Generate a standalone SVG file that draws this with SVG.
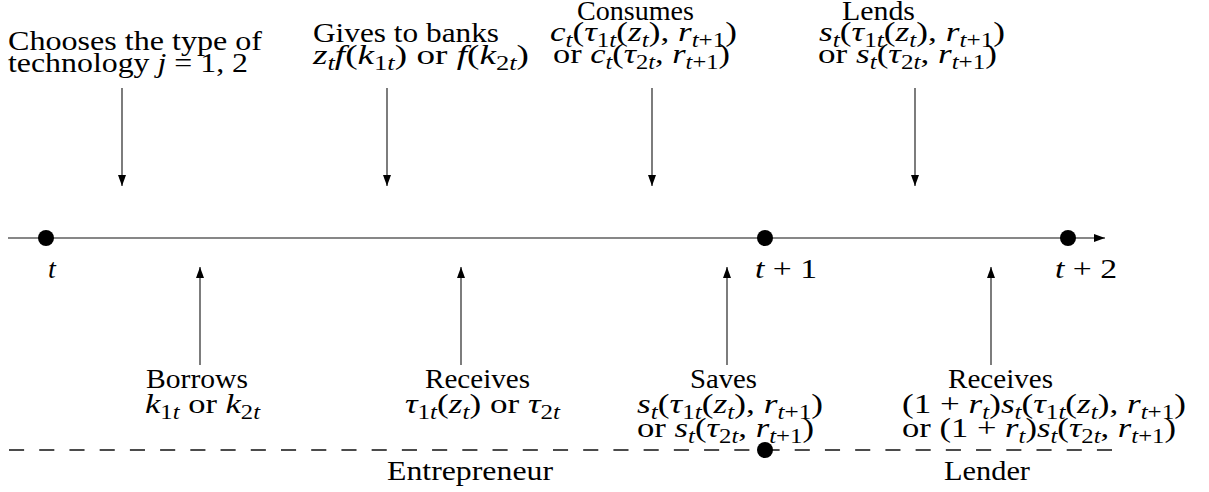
<svg xmlns="http://www.w3.org/2000/svg" width="1209" height="492" viewBox="0 0 1209 492">
<style>
text { font-family: "Liberation Serif", "DejaVu Serif", serif; font-size: 28px; fill: #000; }
.i { font-style: italic; }
.sb { font-size: 20px; }
.ln { stroke: #111; stroke-width: 1.1; fill: none; }
.dash { stroke: #111; stroke-width: 1.3; stroke-dasharray: 15.11 15.11; fill: none; }
.dot { fill: #000; }
</style>
<defs>
<marker id="ah" markerUnits="userSpaceOnUse" markerWidth="11" markerHeight="8" refX="11" refY="4" orient="auto">
<path d="M0,0 L11,4 L0,8 z" fill="#000"/>
</marker>
</defs>
<rect width="1209" height="492" fill="#fff"/>

<g id="connectors">
<line class="ln" x1="8" y1="238" x2="1105" y2="238" marker-end="url(#ah)"/>
<line class="ln" x1="122" y1="88" x2="122" y2="186" marker-end="url(#ah)"/>
<line class="ln" x1="387" y1="88" x2="387" y2="186" marker-end="url(#ah)"/>
<line class="ln" x1="652" y1="88" x2="652" y2="186" marker-end="url(#ah)"/>
<line class="ln" x1="915" y1="88" x2="915" y2="186" marker-end="url(#ah)"/>
<line class="ln" x1="200" y1="365" x2="200" y2="267" marker-end="url(#ah)"/>
<line class="ln" x1="461" y1="365" x2="461" y2="267" marker-end="url(#ah)"/>
<line class="ln" x1="727" y1="365" x2="727" y2="267" marker-end="url(#ah)"/>
<line class="ln" x1="991" y1="365" x2="991" y2="267" marker-end="url(#ah)"/>
<line class="dash" x1="9" y1="450" x2="1112" y2="450"/>
</g>

<g id="time-t">
<circle class="dot" cx="46" cy="238" r="8"/>
<text x="52" y="278" text-anchor="middle" class="i">t</text>
</g>
<g id="time-t1">
<circle class="dot" cx="765" cy="238" r="8"/>
<text x="755" y="278" textLength="62" lengthAdjust="spacingAndGlyphs"><tspan class="i">t</tspan> + 1</text>
</g>
<g id="time-t2">
<circle class="dot" cx="1068" cy="238" r="8"/>
<text x="1055" y="278" textLength="62" lengthAdjust="spacingAndGlyphs"><tspan class="i">t</tspan> + 2</text>
</g>

<g id="chooses">
<text x="8" y="50" textLength="254" lengthAdjust="spacingAndGlyphs">Chooses the type of</text>
<text x="8" y="72" textLength="240" lengthAdjust="spacingAndGlyphs">technology <tspan class="i">j</tspan> = 1, 2</text>
</g>

<g id="gives">
<text x="313" y="42" textLength="186" lengthAdjust="spacingAndGlyphs">Gives to banks</text>
<text x="313" y="64" textLength="216" lengthAdjust="spacingAndGlyphs"><tspan class="i">z</tspan><tspan class="sb i" dy="6">t</tspan><tspan class="i" dy="-6">f</tspan>(<tspan class="i">k</tspan><tspan class="sb" dy="6">1<tspan class="i">t</tspan></tspan><tspan dy="-6">) or </tspan><tspan class="i">f</tspan>(<tspan class="i">k</tspan><tspan class="sb" dy="6">2<tspan class="i">t</tspan></tspan><tspan dy="-6">)</tspan></text>
</g>

<g id="consumes">
<text x="577" y="20" textLength="117" lengthAdjust="spacingAndGlyphs">Consumes</text>
<text x="550" y="41" textLength="187" lengthAdjust="spacingAndGlyphs"><tspan class="i">c</tspan><tspan class="sb i" dy="6">t</tspan><tspan dy="-6">(</tspan><tspan class="i">τ</tspan><tspan class="sb" dy="6">1<tspan class="i">t</tspan></tspan><tspan dy="-6">(</tspan><tspan class="i">z</tspan><tspan class="sb i" dy="6">t</tspan><tspan dy="-6">), </tspan><tspan class="i">r</tspan><tspan class="sb" dy="6"><tspan class="i">t</tspan>+1</tspan><tspan dy="-6">)</tspan></text>
<text x="553" y="63" textLength="177" lengthAdjust="spacingAndGlyphs">or <tspan class="i">c</tspan><tspan class="sb i" dy="6">t</tspan><tspan dy="-6">(</tspan><tspan class="i">τ</tspan><tspan class="sb" dy="6">2<tspan class="i">t</tspan></tspan><tspan dy="-6">, </tspan><tspan class="i">r</tspan><tspan class="sb" dy="6"><tspan class="i">t</tspan>+1</tspan><tspan dy="-6">)</tspan></text>
</g>

<g id="lends">
<text x="842" y="20" textLength="73" lengthAdjust="spacingAndGlyphs">Lends</text>
<text x="819" y="41" textLength="186" lengthAdjust="spacingAndGlyphs"><tspan class="i">s</tspan><tspan class="sb i" dy="6">t</tspan><tspan dy="-6">(</tspan><tspan class="i">τ</tspan><tspan class="sb" dy="6">1<tspan class="i">t</tspan></tspan><tspan dy="-6">(</tspan><tspan class="i">z</tspan><tspan class="sb i" dy="6">t</tspan><tspan dy="-6">), </tspan><tspan class="i">r</tspan><tspan class="sb" dy="6"><tspan class="i">t</tspan>+1</tspan><tspan dy="-6">)</tspan></text>
<text x="818" y="63" textLength="179" lengthAdjust="spacingAndGlyphs">or <tspan class="i">s</tspan><tspan class="sb i" dy="6">t</tspan><tspan dy="-6">(</tspan><tspan class="i">τ</tspan><tspan class="sb" dy="6">2<tspan class="i">t</tspan></tspan><tspan dy="-6">, </tspan><tspan class="i">r</tspan><tspan class="sb" dy="6"><tspan class="i">t</tspan>+1</tspan><tspan dy="-6">)</tspan></text>
</g>

<g id="borrows">
<text x="146" y="388" textLength="102" lengthAdjust="spacingAndGlyphs">Borrows</text>
<text x="145" y="413" textLength="115" lengthAdjust="spacingAndGlyphs"><tspan class="i">k</tspan><tspan class="sb" dy="6">1<tspan class="i">t</tspan></tspan><tspan dy="-6"> or </tspan><tspan class="i">k</tspan><tspan class="sb" dy="6">2<tspan class="i">t</tspan></tspan></text>
</g>

<g id="receives-entrepreneur">
<text x="425" y="388" textLength="105" lengthAdjust="spacingAndGlyphs">Receives</text>
<text x="405" y="413" textLength="155" lengthAdjust="spacingAndGlyphs"><tspan class="i">τ</tspan><tspan class="sb" dy="6">1<tspan class="i">t</tspan></tspan><tspan dy="-6">(</tspan><tspan class="i">z</tspan><tspan class="sb i" dy="6">t</tspan><tspan dy="-6">) or </tspan><tspan class="i">τ</tspan><tspan class="sb" dy="6">2<tspan class="i">t</tspan></tspan></text>
</g>

<g id="saves">
<text x="690" y="388" textLength="67" lengthAdjust="spacingAndGlyphs">Saves</text>
<text x="637" y="413" textLength="186" lengthAdjust="spacingAndGlyphs"><tspan class="i">s</tspan><tspan class="sb i" dy="6">t</tspan><tspan dy="-6">(</tspan><tspan class="i">τ</tspan><tspan class="sb" dy="6">1<tspan class="i">t</tspan></tspan><tspan dy="-6">(</tspan><tspan class="i">z</tspan><tspan class="sb i" dy="6">t</tspan><tspan dy="-6">), </tspan><tspan class="i">r</tspan><tspan class="sb" dy="6"><tspan class="i">t</tspan>+1</tspan><tspan dy="-6">)</tspan></text>
<text x="637" y="437" textLength="177" lengthAdjust="spacingAndGlyphs">or <tspan class="i">s</tspan><tspan class="sb i" dy="6">t</tspan><tspan dy="-6">(</tspan><tspan class="i">τ</tspan><tspan class="sb" dy="6">2<tspan class="i">t</tspan></tspan><tspan dy="-6">, </tspan><tspan class="i">r</tspan><tspan class="sb" dy="6"><tspan class="i">t</tspan>+1</tspan><tspan dy="-6">)</tspan></text>
</g>

<g id="receives-lender">
<text x="948" y="388" textLength="105" lengthAdjust="spacingAndGlyphs">Receives</text>
<text x="902" y="413" textLength="284" lengthAdjust="spacingAndGlyphs">(1 + <tspan class="i">r</tspan><tspan class="sb i" dy="6">t</tspan><tspan dy="-6">)</tspan><tspan class="i">s</tspan><tspan class="sb i" dy="6">t</tspan><tspan dy="-6">(</tspan><tspan class="i">τ</tspan><tspan class="sb" dy="6">1<tspan class="i">t</tspan></tspan><tspan dy="-6">(</tspan><tspan class="i">z</tspan><tspan class="sb i" dy="6">t</tspan><tspan dy="-6">), </tspan><tspan class="i">r</tspan><tspan class="sb" dy="6"><tspan class="i">t</tspan>+1</tspan><tspan dy="-6">)</tspan></text>
<text x="902" y="437" textLength="274" lengthAdjust="spacingAndGlyphs">or (1 + <tspan class="i">r</tspan><tspan class="sb i" dy="6">t</tspan><tspan dy="-6">)</tspan><tspan class="i">s</tspan><tspan class="sb i" dy="6">t</tspan><tspan dy="-6">(</tspan><tspan class="i">τ</tspan><tspan class="sb" dy="6">2<tspan class="i">t</tspan></tspan><tspan dy="-6">, </tspan><tspan class="i">r</tspan><tspan class="sb" dy="6"><tspan class="i">t</tspan>+1</tspan><tspan dy="-6">)</tspan></text>
</g>

<g id="side-labels">
<circle class="dot" cx="765" cy="450" r="8"/>
<text x="387" y="480" textLength="166" lengthAdjust="spacingAndGlyphs">Entrepreneur</text>
<text x="944" y="480" textLength="86" lengthAdjust="spacingAndGlyphs">Lender</text>
</g>
</svg>
